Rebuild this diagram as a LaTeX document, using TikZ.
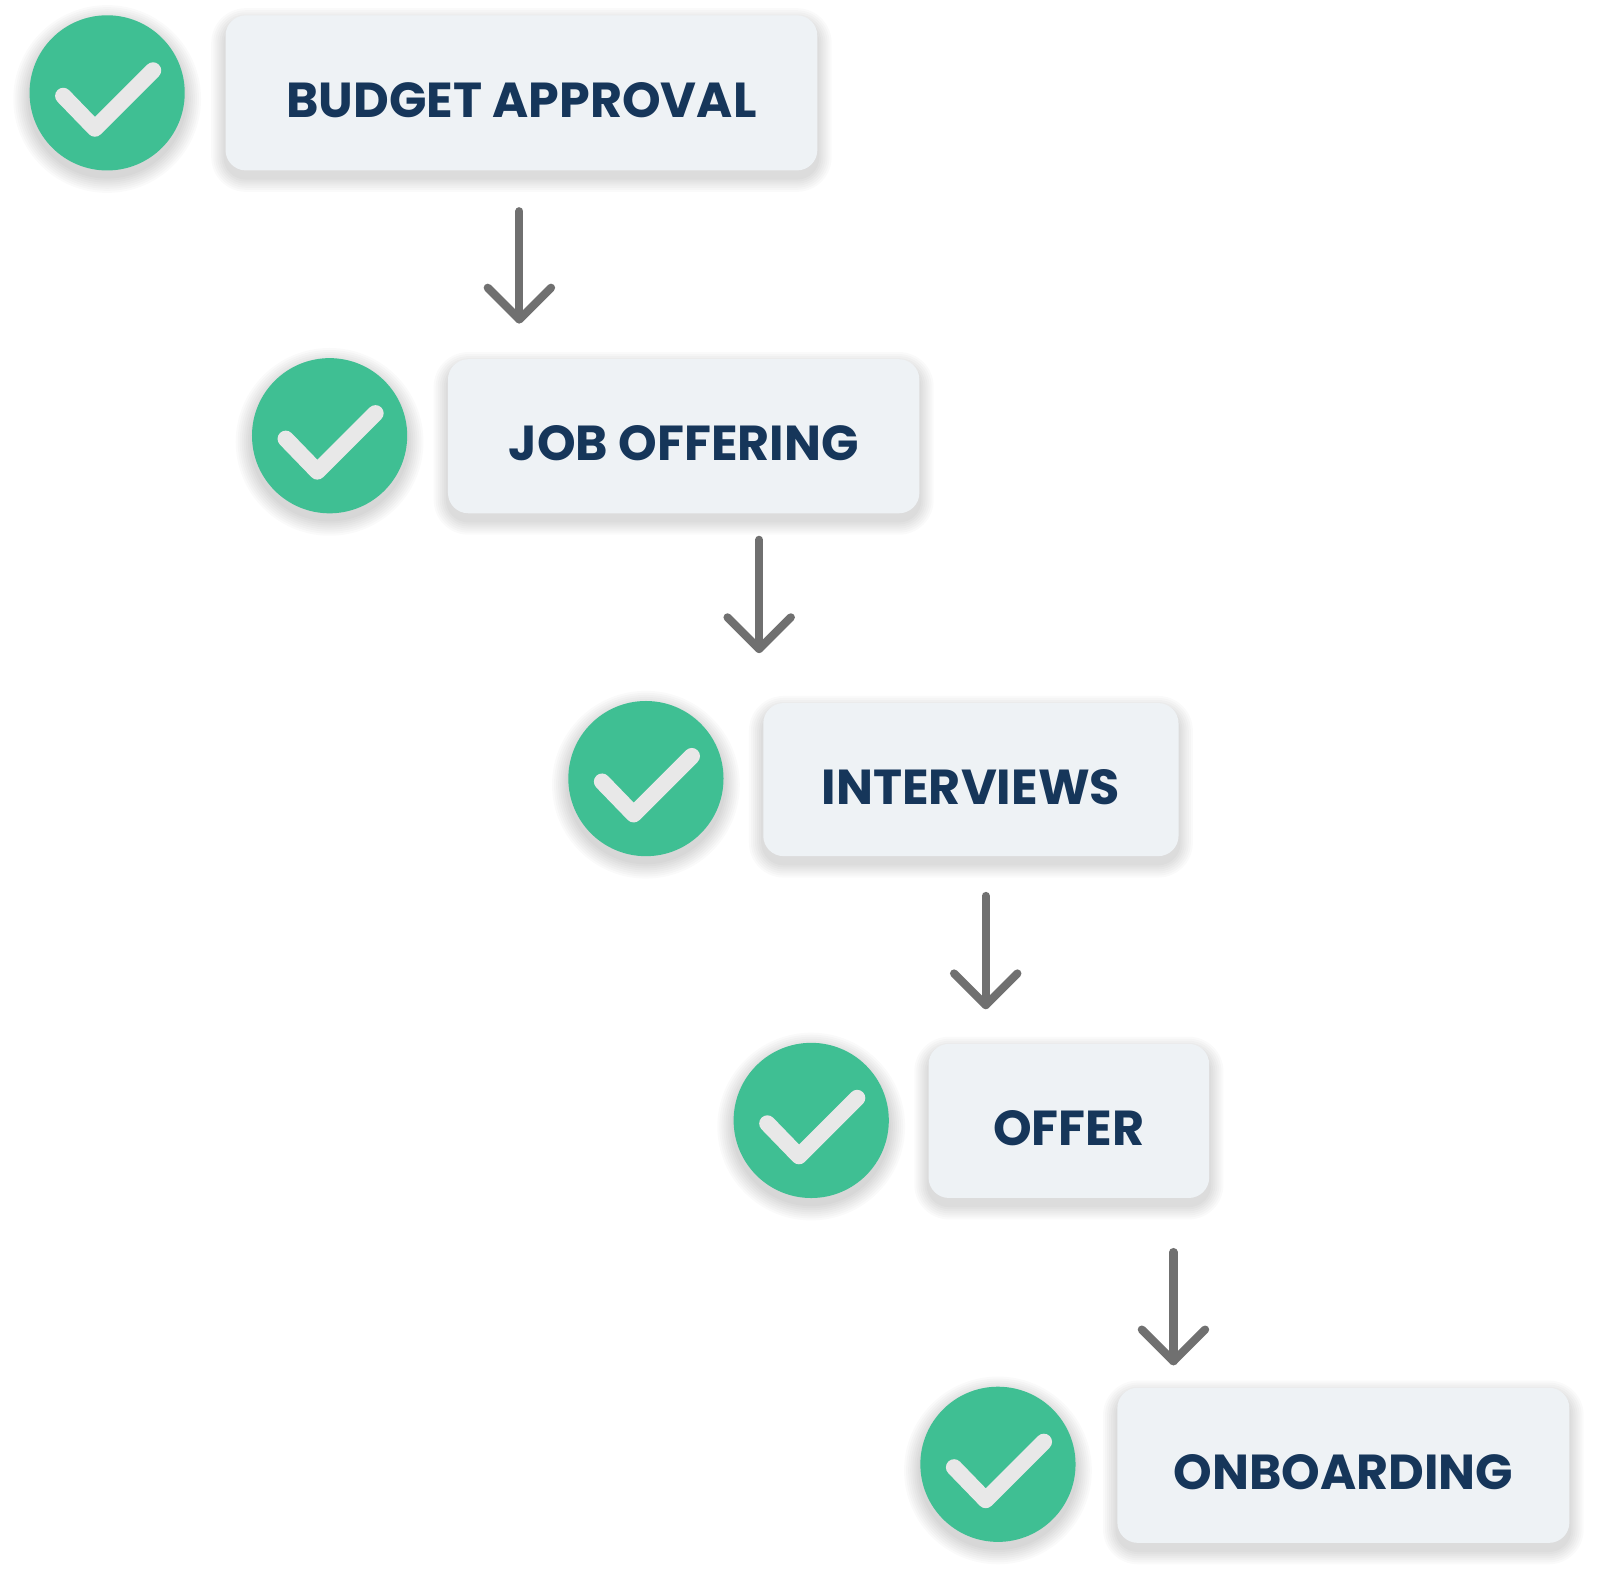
\documentclass[tikz,border=0pt]{standalone}
\usepackage{fontspec}
\setmainfont{Poppins}
\definecolor{grn}{HTML}{3FBF93}
\definecolor{boxc}{HTML}{EEF2F5}
\definecolor{txt}{HTML}{16365A}
\definecolor{arr}{HTML}{707070}
\begin{document}
\begin{tikzpicture}[x=0.01cm,y=-0.01cm,
  sh/.style={fill=black,fill opacity=0.018},
  lbl/.style={font=\fontsize{13.7}{16}\selectfont\bfseries,text=txt},
  chk/.style={draw=white!91!black,line width=0.16cm,line cap=round,line join=round},
  ar/.style={draw=arr,line width=0.08cm,line cap=round,line join=round}]
\useasboundingbox (0,0) rectangle (1568,1553);
\fill[white] (0,0) rectangle (1568,1553);
\foreach \n/\x/\y in {c1/105/91,c2/323/427,c3/633/763,c4/795/1098,c5/978/1435}{
  \foreach \k in {2,4,...,16}{\fill[sh] (\x,\y+6) circle ({76+\k});}
  \node[circle,fill=grn,minimum size=1.52cm,inner sep=0] (\n) at (\x,\y) {};
  \draw[chk] (\x-43,\y+3) -- (\x-12,\y+35) -- (\x+45,\y-22);
}
\foreach \n/\a/\b/\c/\d/\t in {b1/221/15/801/167/BUDGET APPROVAL,b2/439/352/901/503/JOB OFFERING,b3/748/689/1155/839/INTERVIEWS,b4/910/1023/1185/1174/OFFER,b5/1095/1360/1538/1512/ONBOARDING}{
  \foreach \k in {2,4,...,14}{\fill[sh,rounded corners={(20+\k)*0.01cm}] (\a-\k,\b-\k+7) rectangle (\c+\k,\d+\k+7);}
  \fill[boxc,rounded corners=0.2cm] (\a,\b) rectangle (\c,\d);
  \node[lbl] (\n) at ({(\a+\c)/2},{(\b+\d)/2+7}) {\t};
}
\foreach \n/\x/\s/\e in {a1/509/207/313,a2/744/529/636,a3/966/878/985,a4/1150/1227/1334}{
  \coordinate (\n s) at (\x,\s);
  \coordinate (\n e) at (\x,\e);
  \draw[ar] (\n s) -- (\n e);
  \draw[ar] ([xshift=-0.31cm,yshift=0.31cm]\n e) -- (\n e) -- ([xshift=0.31cm,yshift=0.31cm]\n e);
}
\end{tikzpicture}
\end{document}
